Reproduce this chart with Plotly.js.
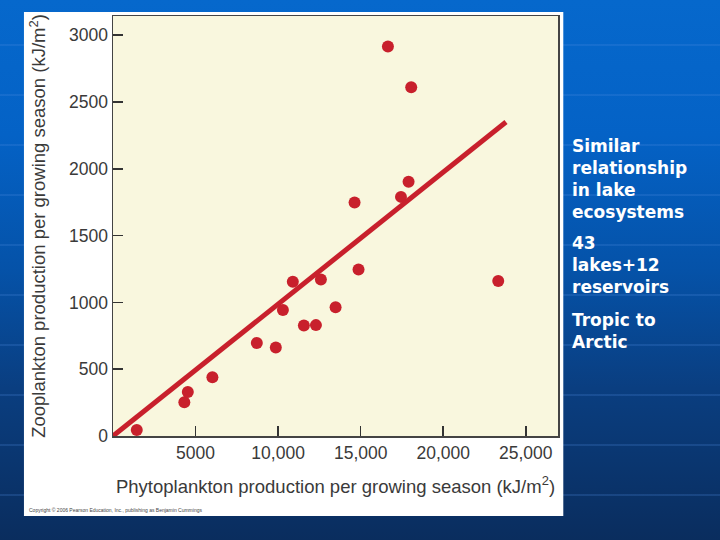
<!DOCTYPE html>
<html>
<head>
<meta charset="utf-8">
<script src="https://cdn.plot.ly/plotly-3.0.1.min.js"></script>
<style>
html,body{margin:0;padding:0;}
body{
  width:720px;height:540px;overflow:hidden;
  background:
    repeating-linear-gradient(to bottom, rgba(0,0,0,0) 0px, rgba(0,0,0,0) 44px, rgba(80,140,225,0.22) 44px, rgba(80,140,225,0.22) 46px, rgba(0,0,0,0) 46px, rgba(0,0,0,0) 50px),
    linear-gradient(to bottom, #0668cc 0%, #0462c6 25%, #0552a8 50%, #0a3e80 72%, #0a2d5e 100%);
}
#chart{width:720px;height:540px;}
</style>
</head>
<body>
<div id="chart"></div>
<script>
// Phytoplankton production (kJ/m^2) vs Zooplankton production (kJ/m^2)
const phyto = [1440, 4320, 4530, 6020, 8710, 9860, 10290, 10890, 11560, 12290, 12590, 13480, 14870, 14630, 16650, 18060, 17900, 17440, 23330];
const zoo   = [45, 252, 329, 439, 696, 663, 943, 1155, 828, 830, 1172, 963, 1247, 1748, 2915, 2611, 1903, 1790, 1160];

// Regression line end points
const fitX = [0, 23800];
const fitY = [0, 2350];

const xTickVals = [5000, 10000, 15000, 20000, 25000];
const xTickText = ['5000', '10,000', '15,000', '20,000', '25,000'];
const yTickVals = [0, 500, 1000, 1500, 2000, 2500, 3000];
const yTickText = ['0', '500', '1000', '1500', '2000', '2500', '3000'];

const notes = [
  'Similar<br>relationship<br>in lake<br>ecosystems',
  '43<br>lakes+12<br>reservoirs',
  'Tropic to<br>Arctic'
];

const red = 'rgb(200,32,44)';
const tickFont = {family: 'Liberation Sans, Arial, sans-serif', size: 17.5, color: '#3a3a3a'};
const titleFont = {family: 'Liberation Sans, Arial, sans-serif', size: 18.5, color: '#3a3a3a'};
const noteFont = {family: 'DejaVu Sans, Verdana, sans-serif', size: 17, color: 'white', weight: 'bold'};

const traces = [
  {x: fitX, y: fitY, type: 'scatter', mode: 'lines', line: {color: red, width: 5}, hoverinfo: 'skip'},
  {x: phyto, y: zoo, type: 'scatter', mode: 'markers', marker: {color: red, size: 12}, cliponaxis: false}
];

const layout = {
  width: 720, height: 540,
  margin: {l: 113, r: 162, t: 16, b: 104},
  paper_bgcolor: 'rgba(0,0,0,0)',
  plot_bgcolor: 'rgba(0,0,0,0)',
  showlegend: false,
  font: tickFont,
  xaxis: {
    range: [0, 26950], tickvals: xTickVals, ticktext: xTickText,
    ticks: 'inside', ticklen: 10, tickwidth: 1.5, tickcolor: '#333',
    showgrid: false, zeroline: false,
    showline: true, linecolor: '#444', linewidth: 1.5, mirror: true,
    tickfont: tickFont,
    title: {text: 'Phytoplankton production per growing season (kJ/m<sup>2</sup>)', font: titleFont, standoff: 18}
  },
  yaxis: {
    range: [0, 3144], tickvals: yTickVals, ticktext: yTickText,
    ticks: 'inside', ticklen: 10, tickwidth: 1.5, tickcolor: '#333',
    showgrid: false, zeroline: false,
    showline: true, linecolor: '#444', linewidth: 1.5, mirror: true,
    tickfont: tickFont,
    title: {text: 'Zooplankton production per growing season (kJ/m<sup>2</sup>)', font: titleFont, standoff: 18}
  },
  shapes: [
    {type: 'rect', xref: 'paper', yref: 'paper', x0: -0.2001, x1: 1.0119, y0: -0.1905, y1: 1.0095,
     fillcolor: 'white', line: {width: 0}, layer: 'below'},
    {type: 'rect', xref: 'paper', yref: 'paper', x0: 0, x1: 1, y0: 0, y1: 1,
     fillcolor: 'rgb(249,247,222)', line: {width: 0}, layer: 'below'}
  ],
  annotations: [
    {xref: 'paper', yref: 'paper', x: -0.193, y: -0.176, xanchor: 'left', yanchor: 'middle', showarrow: false,
     text: 'Copyright © 2006 Pearson Education, Inc., publishing as Benjamin Cummings',
     font: {family: 'Liberation Sans, Arial, sans-serif', size: 5, color: '#444'}},
    {xref: 'paper', yref: 'paper', x: 1.026, y: 0.612, xanchor: 'left', yanchor: 'middle', align: 'left', showarrow: false,
     text: notes[0], font: noteFont},
    {xref: 'paper', yref: 'paper', x: 1.026, y: 0.407, xanchor: 'left', yanchor: 'middle', align: 'left', showarrow: false,
     text: notes[1], font: noteFont},
    {xref: 'paper', yref: 'paper', x: 1.026, y: 0.251, xanchor: 'left', yanchor: 'middle', align: 'left', showarrow: false,
     text: notes[2], font: noteFont}
  ]
};

Plotly.newPlot('chart', traces, layout, {staticPlot: true, displayModeBar: false});
</script>
</body>
</html>
